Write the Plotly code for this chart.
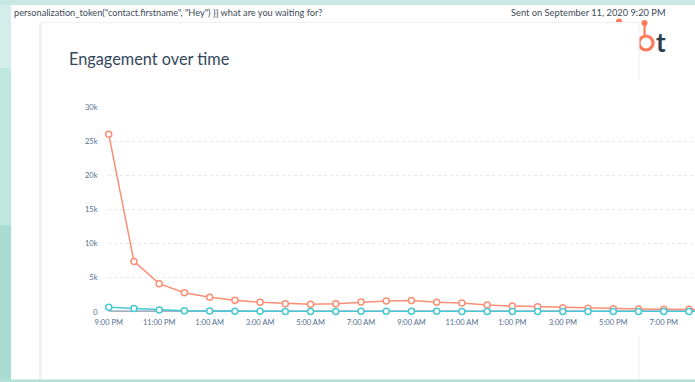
import plotly.graph_objects as go

# ---------------- data ----------------
hours = ["9:00 PM", "10:00 PM", "11:00 PM", "12:00 AM", "1:00 AM", "2:00 AM", "3:00 AM",
         "4:00 AM", "5:00 AM", "6:00 AM", "7:00 AM", "8:00 AM", "9:00 AM", "10:00 AM",
         "11:00 AM", "12:00 PM", "1:00 PM", "2:00 PM", "3:00 PM", "4:00 PM", "5:00 PM",
         "6:00 PM", "7:00 PM", "8:00 PM", "9:00 PM "]
opens = [26000, 7400, 4150, 2830, 2150, 1710, 1420, 1220, 1120, 1220, 1460, 1620, 1700,
         1420, 1310, 1020, 880, 780, 630, 540, 490, 440, 390, 390, 380]
clicks = [700, 500, 300, 200, 150, 110, 100, 90, 90, 90, 100, 100, 100, 100, 90, 90,
          80, 80, 70, 70, 60, 60, 60, 60, 60]
other = [40, 35, 30, 25, 20, 20, 20, 20, 20, 20, 20, 20, 20, 20, 20, 20, 20, 20, 20,
         20, 20, 20, 20, 20, 20]
x_tick_labels = hours[0::2]
y_tick_vals = [0, 5000, 10000, 15000, 20000, 25000, 30000]
y_tick_labels = ["0", "5k", "10k", "15k", "20k", "25k", "30k"]

title = "Engagement over time"
subject = 'personalization_token("contact.firstname", "Hey") }} what are you waiting for?'
sent = "Sent on September 11, 2020 9:20 PM"

# ---------------- geometry helpers ----------------
W, H = 695, 382
ML, MR, MT, MB = 108, 0, 107, 70
PW, PH = W - ML - MR, H - MT - MB


def px(x):
    return (x - ML) / PW


def py(y):
    return (H - MB - y) / PH


ORANGE = "#fb8f76"
TEAL = "#45c9d3"
GRAY = "#a3b2c4"
TEXT = "#33475b"

fig = go.Figure()
fig.add_trace(go.Scatter(x=hours, y=other, mode="lines", line=dict(color=GRAY, width=3),
                         hoverinfo="skip", showlegend=False, cliponaxis=False))
fig.add_trace(go.Scatter(x=hours, y=opens, mode="lines+markers",
                         line=dict(color=ORANGE, width=1.5),
                         marker=dict(symbol="circle", size=6, color="white",
                                     line=dict(color=ORANGE, width=1.5)),
                         showlegend=False, cliponaxis=False))
fig.add_trace(go.Scatter(x=hours, y=clicks, mode="lines+markers",
                         line=dict(color=TEAL, width=1.5),
                         marker=dict(symbol="circle", size=6, color="white",
                                     line=dict(color=TEAL, width=1.5)),
                         showlegend=False, cliponaxis=False))

shapes = []
# logo pieces (partly hidden behind card)
shapes.append(dict(type="circle", xref="paper", yref="paper",
                   x0=px(639), x1=px(653), y0=py(36), y1=py(50),
                   line=dict(color="#ff7a59", width=3.2), fillcolor="rgba(0,0,0,0)", layer="below"))
shapes.append(dict(type="line", xref="paper", yref="paper",
                   x0=px(644.5), x1=px(644.5), y0=py(24), y1=py(36),
                   line=dict(color="#ff7a59", width=2.2), layer="below"))
shapes.append(dict(type="circle", xref="paper", yref="paper",
                   x0=px(641.5), x1=px(647.5), y0=py(20), y1=py(26),
                   fillcolor="#ff7a59", line=dict(width=0), layer="below"))
shapes.append(dict(type="circle", xref="paper", yref="paper",
                   x0=px(616), x1=px(622), y0=py(18.5), y1=py(24.5),
                   fillcolor="#ff7a59", line=dict(width=0), layer="below"))
# card (white) with faint edges
shapes.append(dict(type="rect", xref="paper", yref="paper",
                   x0=px(42), x1=px(639), y0=py(23), y1=py(382),
                   fillcolor="white", line=dict(width=0), layer="below"))
shapes.append(dict(type="rect", xref="paper", yref="paper",
                   x0=px(39), x1=px(42), y0=py(23), y1=py(380),
                   fillcolor="#f1f2f4", line=dict(width=0), layer="below"))
shapes.append(dict(type="line", xref="paper", yref="paper",
                   x0=px(42), x1=px(639), y0=py(22.5), y1=py(22.5),
                   line=dict(color="#eef0f3", width=1), layer="below"))
shapes.append(dict(type="line", xref="paper", yref="paper",
                   x0=px(639), x1=px(639), y0=py(22), y1=py(80),
                   line=dict(color="#eceef1", width=1), layer="below"))
shapes.append(dict(type="line", xref="paper", yref="paper",
                   x0=px(639), x1=px(639), y0=py(336), y1=py(380),
                   line=dict(color="#eceef1", width=1), layer="below"))
# teal frame strips
shapes.append(dict(type="rect", xref="paper", yref="paper",
                   x0=px(0), x1=px(11), y0=py(0), y1=py(68),
                   fillcolor="#d3eeea", line=dict(width=0), layer="below"))
shapes.append(dict(type="rect", xref="paper", yref="paper",
                   x0=px(0), x1=px(11), y0=py(68), y1=py(382),
                   fillcolor="#bfe6df", line=dict(width=0), layer="below"))
shapes.append(dict(type="rect", xref="paper", yref="paper",
                   x0=px(0), x1=px(11), y0=py(225), y1=py(382),
                   fillcolor="#a9dcd3", line=dict(width=0), layer="below"))
shapes.append(dict(type="rect", xref="paper", yref="paper",
                   x0=px(0), x1=px(695), y0=py(0), y1=py(5),
                   fillcolor="#c8e9e3", line=dict(width=0), layer="below"))
shapes.append(dict(type="rect", xref="paper", yref="paper",
                   x0=px(0), x1=px(695), y0=py(379.5), y1=py(382),
                   fillcolor="#b3e0d8", line=dict(width=0), layer="below"))

annotations = [
    dict(text=title, xref="paper", yref="paper", x=px(66.5), y=py(58),
         xanchor="left", yanchor="middle", showarrow=False,
         font=dict(family="Lato", size=16.3, color=TEXT)),
    dict(text=subject, xref="paper", yref="paper", x=px(12), y=py(12.5),
         xanchor="left", yanchor="middle", showarrow=False,
         font=dict(family="Lato", size=9.2, color="#3d4a57")),
    dict(text=sent, xref="paper", yref="paper", x=px(668), y=py(12.5),
         xanchor="right", yanchor="middle", showarrow=False,
         font=dict(family="Lato", size=9.3, color="#3d4a57")),
    dict(text="<b>t</b>", xref="paper", yref="paper", x=px(654), y=py(42),
         xanchor="left", yanchor="middle", showarrow=False,
         font=dict(family="Lato", size=26, color="#2d3e50")),
]

fig.update_layout(
    width=W, height=H,
    margin=dict(l=ML, r=MR, t=MT, b=MB, pad=0),
    paper_bgcolor="white", plot_bgcolor="rgba(0,0,0,0)",
    shapes=shapes, annotations=annotations,
    font=dict(family="Lato", color="#516f90"),
    xaxis=dict(type="category", range=[-0.03, 23.24], tickmode="array",
               tickvals=x_tick_labels, ticktext=x_tick_labels,
               showgrid=False, zeroline=False, showline=False,
               ticks="outside", ticklen=3, tickcolor="rgba(0,0,0,0)",
               tickfont=dict(family="Lato", size=7.5, color="#516f90")),
    yaxis=dict(range=[0, 30000], tickmode="array", tickvals=y_tick_vals,
               ticktext=y_tick_labels, showgrid=True, gridcolor="#e3e7ee",
               griddash="dot", gridwidth=1, zeroline=False, showline=False,
               ticks="outside", ticklen=8, tickcolor="rgba(0,0,0,0)",
               tickfont=dict(family="Lato", size=7.5, color="#516f90")),
)

fig.write_html("out.html", config={"displayModeBar": False},
               post_script="document.body.style.margin='0';")
